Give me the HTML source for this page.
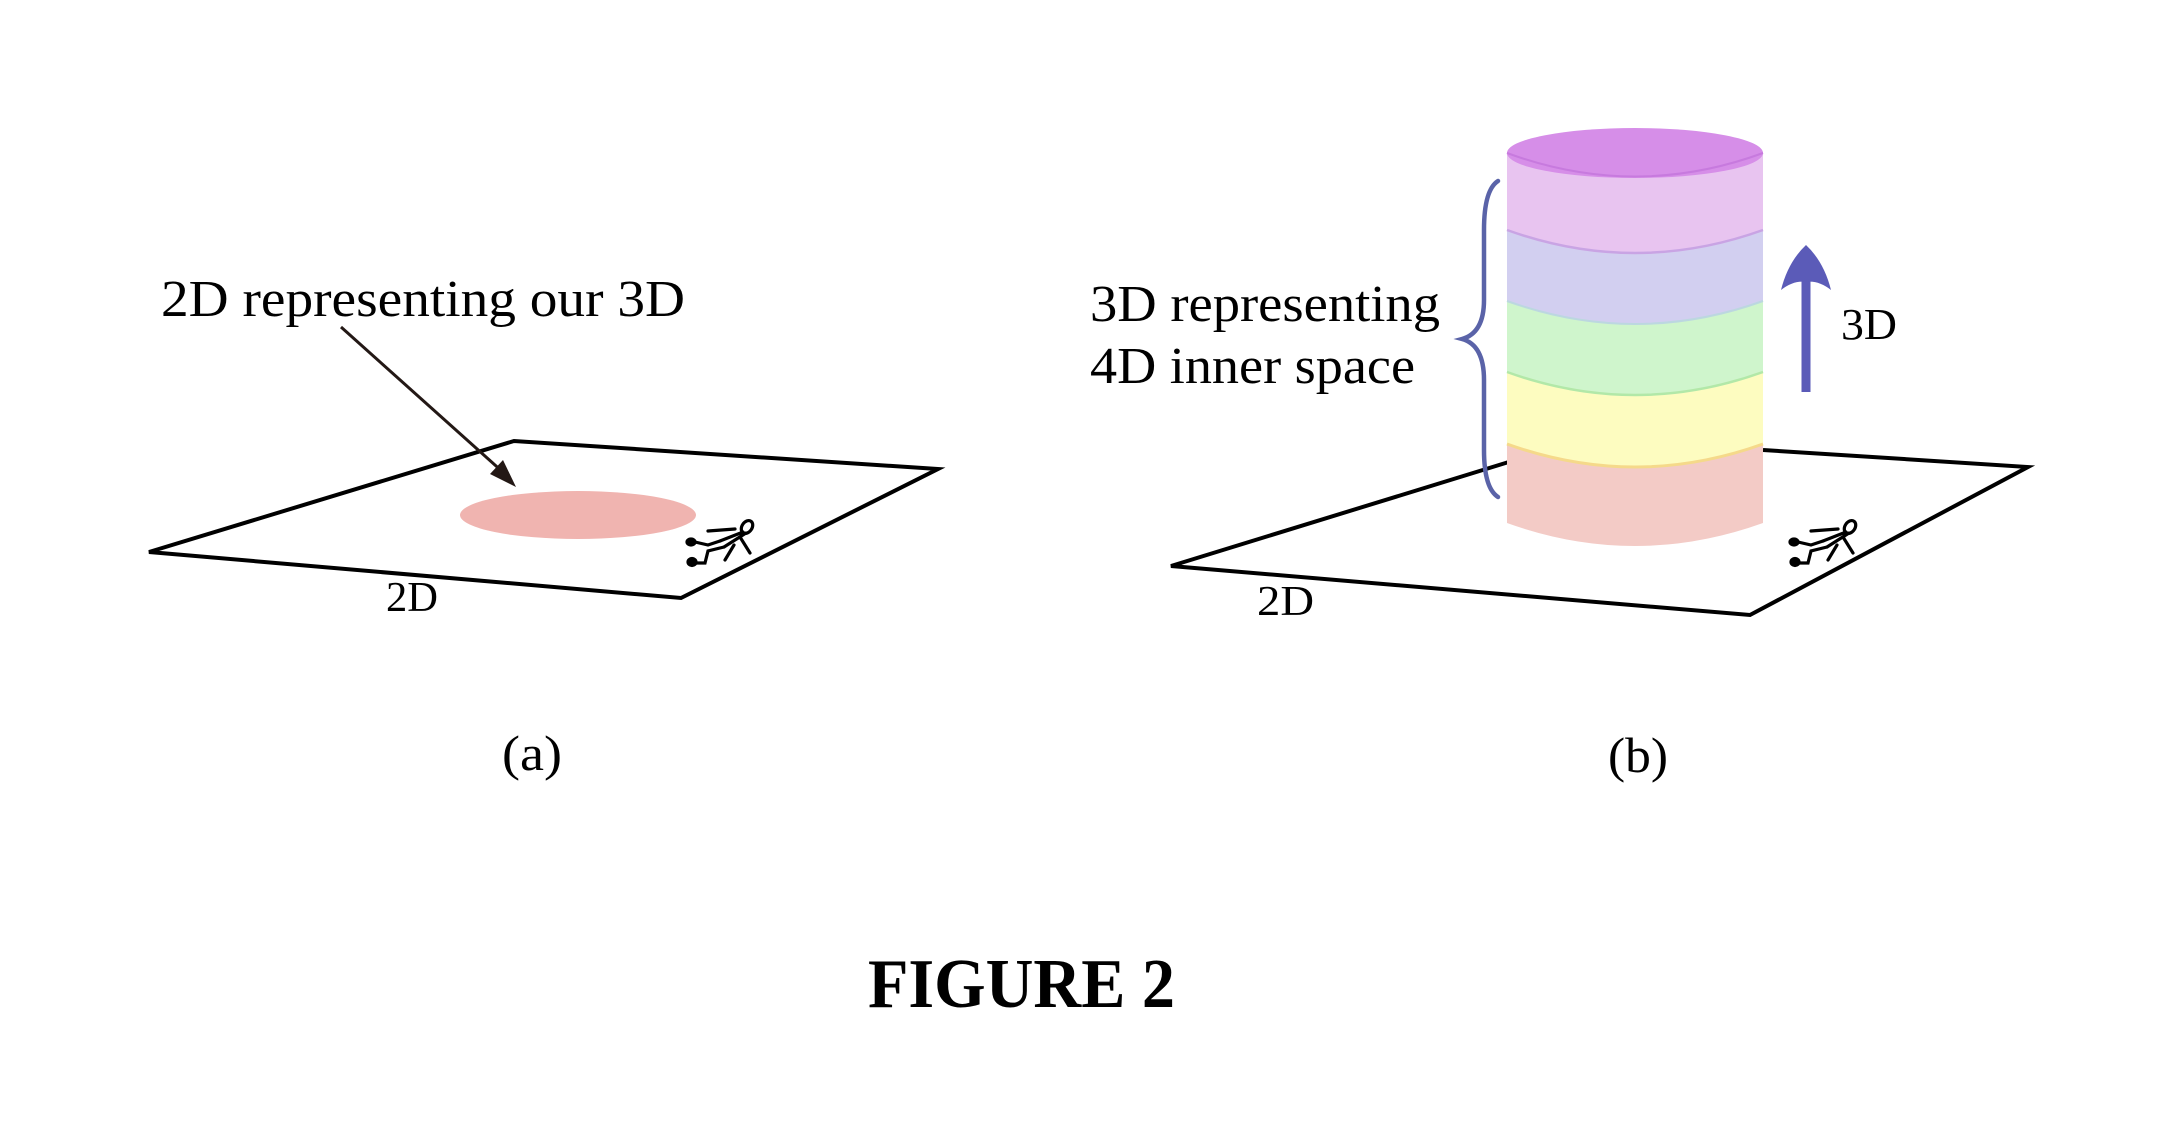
<!DOCTYPE html>
<html><head><meta charset="utf-8"><style>
html,body{margin:0;padding:0;background:#fff;}
svg{display:block;}
text{font-family:"Liberation Serif",serif;fill:#000;}
</style></head><body>
<svg width="2180" height="1125" viewBox="0 0 2180 1125" xmlns="http://www.w3.org/2000/svg">
<defs>
<g id="man" fill="none" stroke="#000" stroke-width="3.2" stroke-linecap="round">
  <ellipse cx="97" cy="22" rx="5" ry="7" transform="rotate(35 97 22)"/>
  <path d="M93 27 L70 36 M96 28 L74 42"/>
  <path d="M58 26 L85 24"/>
  <path d="M90 32 L100 48 M84 40 L75 55"/>
  <path d="M70 36 L58 40 L45 37 M74 42 L58 46 L55 58 L44 58"/>
  <ellipse cx="41" cy="37" rx="4" ry="3" fill="#000"/>
  <ellipse cx="42" cy="57" rx="4" ry="3.5" fill="#000"/>
</g>
</defs>

<!-- Panel (a) -->
<polygon points="149,552 514,441 938,469 681,598" fill="none" stroke="#000" stroke-width="4" stroke-linejoin="miter"/>
<ellipse cx="578" cy="515" rx="118" ry="24" fill="#f0b4b0"/>
<use href="#man" x="650" y="505"/>
<line x1="341" y1="327" x2="505" y2="474" stroke="#231815" stroke-width="3"/>
<polygon points="516,487 490,474 503,460" fill="#231815"/>
<text x="161" y="316" font-size="52" textLength="524" lengthAdjust="spacingAndGlyphs">2D representing our 3D</text>
<text x="386" y="611" font-size="42" textLength="52" lengthAdjust="spacingAndGlyphs">2D</text>
<text x="502" y="770" font-size="50" textLength="60" lengthAdjust="spacingAndGlyphs">(a)</text>

<!-- Panel (b) -->
<polyline points="1763,450 2028,467 1750,615 1171,566 1512,461" fill="none" stroke="#000" stroke-width="4"/>
<use href="#man" x="1753" y="505"/>
<path d="M1507,444 Q1635,490 1763,444 L1763,523 Q1635,569 1507,523 Z" fill="#f3cbc6"/>
<path d="M1507,372 Q1635,418 1763,372 L1763,444 Q1635,490 1507,444 Z" fill="#fdfcc0"/>
<path d="M1507,444 Q1635,490 1763,444" fill="none" stroke="#f5d98a" stroke-width="3"/>
<path d="M1507,301 Q1635,347 1763,301 L1763,372 Q1635,418 1507,372 Z" fill="#cff5cc"/>
<path d="M1507,372 Q1635,418 1763,372" fill="none" stroke="#b2e8a8" stroke-width="2.5"/>
<path d="M1507,230 Q1635,276 1763,230 L1763,301 Q1635,347 1507,301 Z" fill="#d2cff0"/>
<path d="M1507,301 Q1635,347 1763,301" fill="none" stroke="#bcd7e0" stroke-width="2"/>
<path d="M1507,153 L1763,153 L1763,230 Q1635,276 1507,230 Z" fill="#e8c4f0"/>
<path d="M1507,230 Q1635,276 1763,230" fill="none" stroke="#c9a4e4" stroke-width="2.5"/>
<ellipse cx="1635" cy="153" rx="128" ry="25" fill="#d68ee8"/>
<path d="M1507,153 Q1635,200 1763,153" fill="none" stroke="#c77ade" stroke-width="2"/>
<!-- brace -->
<path d="M1498,181 Q1484,190 1484,230 L1484,300 Q1484,333 1462,339 Q1484,345 1484,380 L1484,450 Q1484,488 1498,497" fill="none" stroke="#5a63a8" stroke-width="4.5" stroke-linecap="round"/>
<text x="1090" y="321" font-size="52" textLength="350" lengthAdjust="spacingAndGlyphs">3D representing</text>
<text x="1090" y="383" font-size="52" textLength="325" lengthAdjust="spacingAndGlyphs">4D inner space</text>
<!-- arrow -->
<line x1="1806" y1="392" x2="1806" y2="280" stroke="#5b5bb8" stroke-width="9"/>
<path d="M1806,245 Q1824,262 1831,290 Q1818,280 1806,282 Q1794,280 1781,290 Q1788,262 1806,245 Z" fill="#5b5bb8"/>
<text x="1841" y="339" font-size="44" textLength="56" lengthAdjust="spacingAndGlyphs">3D</text>
<text x="1257" y="615" font-size="42" textLength="57" lengthAdjust="spacingAndGlyphs">2D</text>
<text x="1608" y="772" font-size="50" textLength="60" lengthAdjust="spacingAndGlyphs">(b)</text>

<text x="868" y="1007" font-size="70" font-weight="bold" textLength="307" lengthAdjust="spacingAndGlyphs">FIGURE 2</text>
</svg>
</body></html>
